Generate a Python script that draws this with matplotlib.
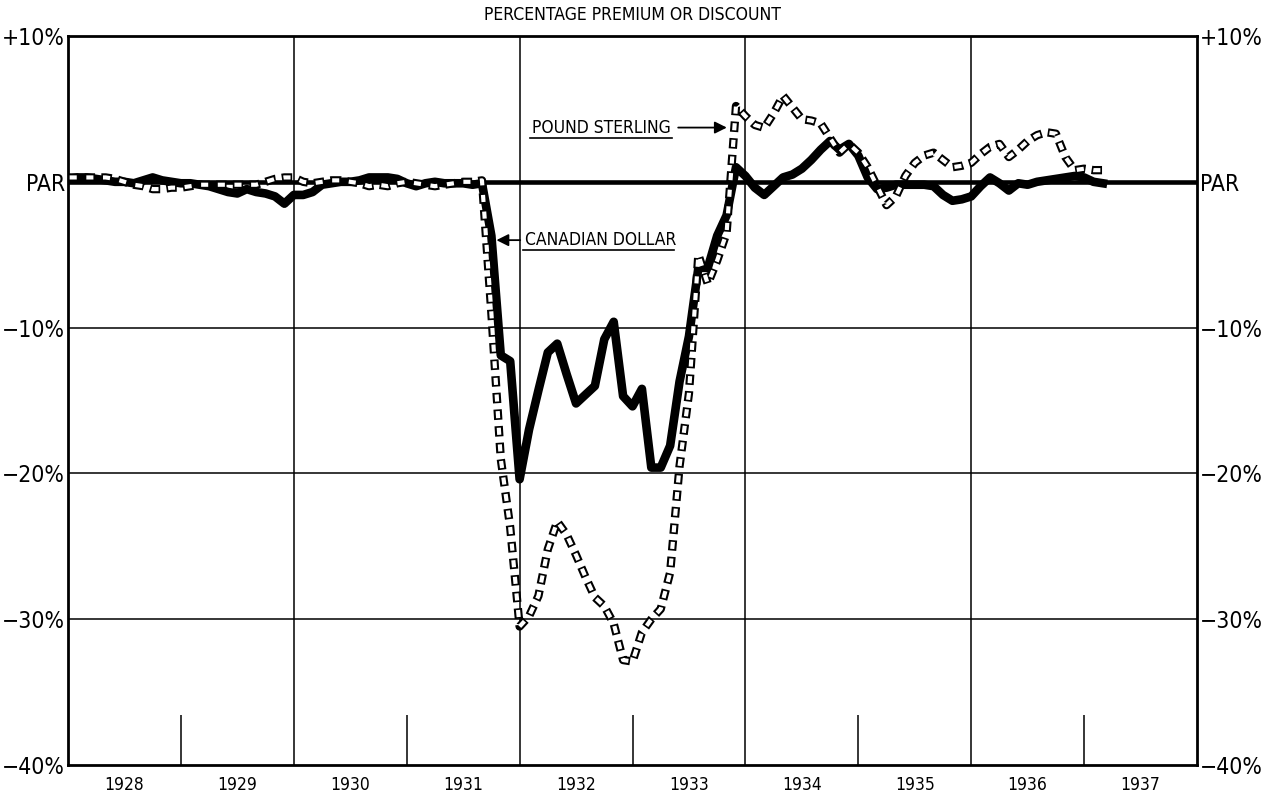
import matplotlib
matplotlib.use('Agg')
import matplotlib.pyplot as plt
import numpy as np

plt.rcParams['font.family'] = ['DejaVu Sans']
plt.rcParams['font.stretch'] = 'condensed'
plt.rcParams['lines.scale_dashes'] = False

# monthly readings, Jan 1928 .. Mar 1937, percent vs. par
canadian = [0.2, 0.3, 0.3, 0.2, 0.1, 0.0, 0.0, -0.1, 0.1, 0.3, 0.1, 0.0,
            -0.1, -0.1, -0.2, -0.3, -0.5, -0.7, -0.8, -0.5, -0.7, -0.8, -1.0, -1.5,
            -0.9, -0.9, -0.7, -0.2, -0.1, 0.0, 0.0, 0.1, 0.3, 0.3, 0.3, 0.2,
            -0.1, -0.3, -0.1, 0.0, -0.1, -0.1, -0.1, -0.2, -0.1, -3.7, -11.9, -12.3,
            -20.4, -17.0, -14.3, -11.7, -11.1, -13.2, -15.2, -14.6, -14.0, -10.8, -9.6, -14.7,
            -15.4, -14.2, -19.6, -19.6, -18.1, -13.7, -10.6, -5.9, -5.9, -3.7, -2.3, 1.0,
            0.4, -0.4, -0.9, -0.3, 0.3, 0.5, 0.9, 1.5, 2.2, 2.8, 2.2, 2.6,
            1.8, 0.3, -0.5, -0.4, -0.2, -0.2, -0.2, -0.2, -0.3, -0.9, -1.3, -1.2,
            -1.0, -0.3, 0.3, -0.1, -0.6, -0.1, -0.2, 0.0, 0.1, 0.2, 0.3, 0.4,
            0.3, 0.0, -0.1]
sterling = [0.3, 0.3, 0.3, 0.3, 0.3, 0.2, 0.0, -0.2, -0.3, -0.5, -0.5, -0.4,
            -0.4, -0.3, -0.2, -0.2, -0.2, -0.2, -0.2, -0.2, -0.2, 0.0, 0.2, 0.3,
            0.3, 0.0, -0.1, 0.0, 0.1, 0.1, 0.0, -0.1, -0.3, -0.2, -0.3, -0.1,
            0.0, -0.1, -0.2, -0.3, -0.2, -0.1, 0.0, 0.0, 0.1, -9.0, -19.0, -23.7,
            -30.5, -29.8, -28.4, -25.2, -23.3, -24.2, -25.6, -27.1, -28.5, -29.1, -30.3, -32.8,
            -32.9, -30.9, -30.0, -29.3, -26.8, -19.5, -14.5, -5.0, -7.0, -5.4, -3.5, 5.2,
            4.5, 3.9, 3.7, 4.7, 5.9, 5.1, 4.3, 4.2, 4.0, 3.0, 2.0, 2.6,
            2.0, 1.0, -0.3, -1.6, -1.0, 0.4, 1.3, 1.8, 2.0, 1.5, 1.0, 1.1,
            1.3, 1.9, 2.4, 2.6, 1.7, 2.2, 2.8, 3.2, 3.4, 3.3, 1.7, 0.8,
            0.9, 0.8, 0.8]
years = list(range(1928, 1938))
ytick_vals = [10, 0, -10, -20, -30, -40]
ytick_labels = ['+10%', 'PAR', '−10%', '−20%', '−30%', '−40%']

months = 1928 + np.arange(len(canadian)) / 12

fig = plt.figure(figsize=(12.64, 7.95), dpi=100)
ax = fig.add_axes([0.0538, 0.0377, 0.8932, 0.917])
ax.set_xlim(1928, 1938)
ax.set_ylim(-40, 10)

# grid
for y in [-10, -20, -30]:
    ax.axhline(y, color='black', lw=1.1, zorder=1)
for x in [1930, 1932, 1934, 1936]:
    ax.axvline(x, color='black', lw=1.1, zorder=1)
ax.vlines([1929, 1931, 1933, 1935, 1937], -40, -36.6, color='black', lw=1.1, zorder=1)
ax.axhline(0, color='black', lw=3.3, zorder=2)

# canadian dollar - heavy solid line
ax.plot(months, canadian, color='black', lw=6.2, solid_joinstyle='round', zorder=3)

# pound sterling - hollow box dashes
ax.plot(months, sterling, color='black', lw=6, linestyle=(0, (7.5, 4.5)),
        dash_capstyle='butt', zorder=4)
ax.plot(months, sterling, color='white', lw=3, linestyle=(10.8, (5.1, 6.9)),
        dash_capstyle='butt', zorder=5)

for s in ax.spines.values():
    s.set_linewidth(2)

ax.set_xticks([y + 0.5 for y in years])
ax.set_xticklabels([str(y) for y in years], fontsize=12.5)
ax.set_yticks(ytick_vals)
ax.set_yticklabels(ytick_labels, fontsize=16.5)
ax.tick_params(axis='x', length=0, pad=8)
ax.tick_params(axis='y', length=0, pad=2, labelright=True)

fig.text(0.5, 0.981, 'PERCENTAGE PREMIUM OR DISCOUNT', ha='center', va='center', fontsize=12.6)

# labels with arrows
ax.text(1932.11, 3.72, 'POUND STERLING', fontsize=12.5, va='center', ha='left')
ax.plot([1932.09, 1933.35], [3.0, 3.0], color='black', lw=1.2)
ax.annotate('', xy=(1933.86, 3.72), xytext=(1933.38, 3.72),
            arrowprops=dict(arrowstyle='-|>', color='black', lw=1.3, mutation_scale=18))
ax.text(1932.05, -4.0, 'CANADIAN DOLLAR', fontsize=12.5, va='center', ha='left')
ax.plot([1932.03, 1933.37], [-4.65, -4.65], color='black', lw=1.2)
ax.annotate('', xy=(1931.77, -4.0), xytext=(1932.03, -4.0),
            arrowprops=dict(arrowstyle='-|>', color='black', lw=1.3, mutation_scale=18))

fig.savefig('out.png', dpi=100)
